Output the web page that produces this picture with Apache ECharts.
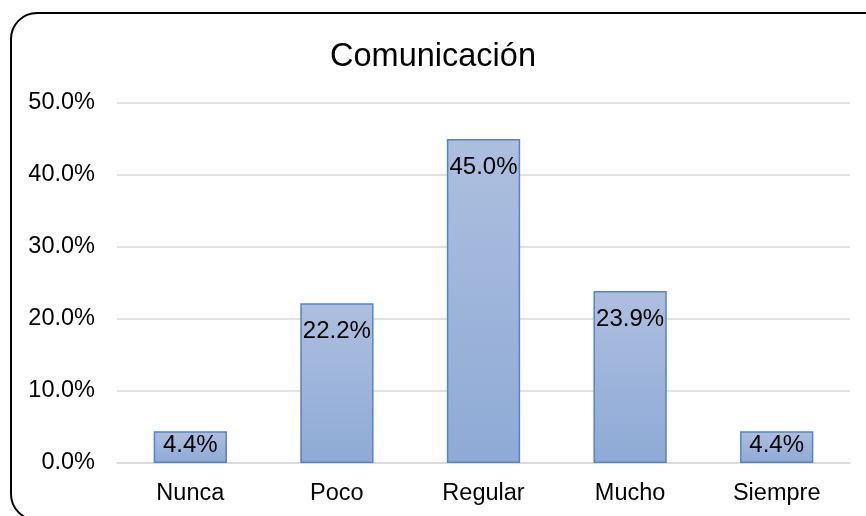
<!DOCTYPE html>
<html>
<head>
<meta charset="utf-8">
<script src="https://cdn.jsdelivr.net/npm/echarts@6/dist/echarts.min.js"></script>
<style>
html,body{margin:0;padding:0;background:#fff;}
#chart_con{width:866px;height:516px;}
</style>
</head>
<body>
<div id="chart_con"></div>
<script>
// datos
const categorias = ['Nunca', 'Poco', 'Regular', 'Mucho', 'Siempre'];
const porcentajes = [4.4, 22.2, 45.0, 23.9, 4.4];
const tituloTexto = 'Comunicación';

const fuente = '"Liberation Sans", Arial, sans-serif';

// barras bajas: la etiqueta queda pegada arriba (como en Excel)
let barData = porcentajes.map(function (v) {
    return {
        value: v,
        label: { distance: v < 10 ? 2 : 16 }
    };
});

let option = {
    animation: false,
    backgroundColor: '#fff',
    title: {
        text: tituloTexto,
        left: 'center',
        top: 36,
        textStyle: {
            fontFamily: fuente,
            fontSize: 32.5,
            fontWeight: 'normal',
            color: '#000'
        }
    },
    graphic: [
        {
            type: 'rect',
            shape: { x: 11, y: 13, width: 880, height: 507, r: 26 },
            style: { fill: 'none', stroke: '#000', lineWidth: 2 },
            z: 10
        }
    ],
    grid: {
        left: 117,
        right: 16,
        top: 103,
        bottom: 53
    },
    xAxis: {
        type: 'category',
        data: categorias,
        axisLine: { show: true, lineStyle: { color: '#d9d9d9', width: 1.5 } },
        axisTick: { show: false },
        axisLabel: {
            color: '#000',
            fontFamily: fuente,
            fontSize: 23.5,
            margin: 19
        }
    },
    yAxis: {
        type: 'value',
        min: 0,
        max: 50,
        interval: 10,
        axisLine: { show: false },
        axisTick: { show: false },
        splitLine: { lineStyle: { color: '#d9d9d9', width: 1.5 } },
        axisLabel: {
            color: '#000',
            fontFamily: fuente,
            fontSize: 23.5,
            margin: 22,
            padding: [4, 0, 0, 0],
            formatter: function (v) { return v.toFixed(1) + '%'; }
        }
    },
    series: [
        {
            type: 'bar',
            data: barData,
            barWidth: '50%',
            itemStyle: {
                color: new echarts.graphic.LinearGradient(0, 0, 0, 1, [
                    { offset: 0, color: '#adbfdf' },
                    { offset: 1, color: '#8eaad6' }
                ]),
                borderColor: '#5584c4',
                borderWidth: 1.5
            },
            label: {
                show: true,
                position: 'insideTop',
                color: '#000',
                fontFamily: fuente,
                fontSize: 24,
                formatter: function (p) { return p.value.toFixed(1) + '%'; }
            }
        }
    ]
};

const chart = echarts.init(document.getElementById('chart_con'));
chart.setOption(option);
window.addEventListener('resize', function () {
    chart.resize();
});
</script>
</body>
</html>
